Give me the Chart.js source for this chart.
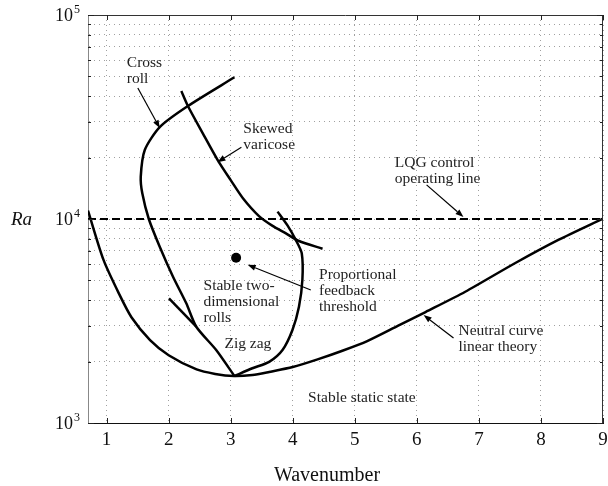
<!DOCTYPE html>
<html><head><meta charset="utf-8">
<script src="https://cdn.jsdelivr.net/npm/chart.js@4.4.1/dist/chart.umd.min.js"></script>
<style>html,body{margin:0;padding:0;background:#fff}</style>
</head><body>
<canvas id="c" width="608" height="486"></canvas>
<script>
const FONT = '"Liberation Serif", "Times New Roman", serif';

// Axis ticks
const xTicks = [1, 2, 3, 4, 5, 6, 7, 8, 9];
const yTicks = [1000, 2000, 3000, 4000, 5000, 6000, 7000, 8000, 9000,
                10000, 20000, 30000, 40000, 50000, 60000, 70000, 80000, 90000, 100000];
const yDecades = [1000, 10000, 100000];
const yDecadeExp = ['3', '4', '5'];

// Neutral curve (linear theory)
const neutralX = [0.7, 0.95, 1.2, 1.4, 1.7, 2.0, 2.45, 2.75, 3.05, 3.35, 3.62, 4.0, 4.4, 4.8, 5.2, 5.7, 6.14, 6.78, 7.58, 8.28, 9.0];
const neutralY = [11000, 6300, 4300, 3300, 2550, 2150, 1830, 1740, 1700, 1720, 1780, 1880, 2050, 2260, 2520, 3000, 3500, 4400, 6070, 7900, 10050];

// Cross roll boundary
const crossX = [3.06, 2.31, 1.86, 1.615, 1.55, 1.575, 1.68, 1.856, 2.07, 2.284, 2.445, 2.766, 3.06];
const crossY = [49500, 35800, 28300, 21800, 16100, 13360, 10000, 7310, 5210, 3860, 2965, 2280, 1700];

// Skewed varicose boundary
const skewX = [2.204, 2.31, 2.55, 2.79, 3.0, 3.2, 3.46, 3.675, 3.89, 4.10, 4.48];
const skewY = [42400, 35800, 26300, 19450, 15500, 12600, 10300, 9250, 8500, 7800, 7150];

// Proportional feedback threshold
const propX = [3.755, 3.915, 4.05, 4.145, 4.155, 4.10, 3.995, 3.835, 3.62, 3.35, 3.06];
const propY = [10870, 9300, 7880, 6790, 5020, 3715, 2858, 2280, 1995, 1855, 1700];

// Zig zag boundary
const zigX = [2.005, 2.445];
const zigY = [4085, 2965];

// LQG control operating line
const lqgX = [0.7, 9];
const lqgY = [10000, 10000];

// Operating point (dot)
const dotX = [3.087];
const dotY = [6460];

// Annotations (data coordinates)
const noteLines = [['Cross', 'roll'], ['Skewed', 'varicose'], ['LQG control', 'operating line'],
  ['Stable two-', 'dimensional', 'rolls'], ['Zig zag'], ['Proportional', 'feedback', 'threshold'],
  ['Neutral curve', 'linear theory'], ['Stable static state']];
const noteX = [1.326, 3.204, 5.644, 2.562, 2.899, 4.424, 6.671, 4.247];
const noteY = [58200, 27600, 18800, 4695, 2440, 5310, 2825, 1326];

const arrowFromX = [1.503, 3.172, 6.157, 4.291, 6.591];
const arrowFromY = [43900, 22500, 14700, 4490, 2610];
const arrowToX = [1.856, 2.787, 6.751, 3.273, 6.109];
const arrowToY = [27900, 19000, 10230, 5960, 3380];

const pts = (xs, ys) => xs.map((v, i) => ({x: v, y: ys[i]}));
const curve = (label, xs, ys, extra) => Object.assign({
  label, data: pts(xs, ys), showLine: true, borderColor: '#000', backgroundColor: '#000',
  borderWidth: 2.5, pointRadius: 0, tension: 0.25, fill: false
}, extra || {});

const decor = {
  id: 'decor',
  afterDatasetsDraw(chart) {
    const {ctx, chartArea: a, scales: {x, y}} = chart;
    ctx.save();
    // top & right frame
    ctx.lineWidth = 1;
    ctx.strokeStyle = '#333';
    ctx.beginPath();
    ctx.moveTo(a.left, Math.round(a.top) + 0.5); ctx.lineTo(a.right, Math.round(a.top) + 0.5);
    ctx.moveTo(Math.round(a.right) - 0.5, a.top); ctx.lineTo(Math.round(a.right) - 0.5, a.bottom);
    ctx.stroke();
    // inward ticks
    ctx.strokeStyle = '#222';
    ctx.beginPath();
    xTicks.forEach(v => {
      const px = Math.round(x.getPixelForValue(v)) + 0.5;
      ctx.moveTo(px, a.bottom); ctx.lineTo(px, a.bottom - 5);
      ctx.moveTo(px, a.top); ctx.lineTo(px, a.top + 5);
    });
    yTicks.forEach(v => {
      const py = Math.round(y.getPixelForValue(v)) + 0.5;
      const len = yDecades.includes(v) ? 6 : 3;
      ctx.moveTo(a.left, py); ctx.lineTo(a.left + len, py);
      ctx.moveTo(a.right, py); ctx.lineTo(a.right - len, py);
    });
    ctx.stroke();
    // y decade labels
    ctx.fillStyle = '#111';
    ctx.textBaseline = 'alphabetic';
    yDecades.forEach((v, i) => {
      const py = y.getPixelForValue(v);
      ctx.font = '18px ' + FONT;
      ctx.textAlign = 'right';
      ctx.fillText('10', a.left - 15, py + 6);
      ctx.font = '12px ' + FONT;
      ctx.textAlign = 'left';
      ctx.fillText(yDecadeExp[i], a.left - 14, py - 2);
    });
    // axis titles
    ctx.font = 'italic 19px ' + FONT;
    ctx.textAlign = 'left';
    ctx.fillText('Ra', 11, y.getPixelForValue(10000) + 6);
    ctx.font = '20px ' + FONT;
    ctx.textAlign = 'center';
    ctx.fillText('Wavenumber', 327, 481);
    // annotations
    ctx.font = '15.5px ' + FONT;
    ctx.fillStyle = '#222';
    ctx.textAlign = 'left';
    ctx.textBaseline = 'middle';
    noteLines.forEach((lines, i) => {
      const px = x.getPixelForValue(noteX[i]);
      const py = y.getPixelForValue(noteY[i]);
      lines.forEach((t, j) => ctx.fillText(t, px, py + j * 16));
    });
    // arrows
    ctx.strokeStyle = '#000';
    ctx.fillStyle = '#000';
    ctx.lineWidth = 1.2;
    arrowFromX.forEach((v, i) => {
      const x0 = x.getPixelForValue(v), y0 = y.getPixelForValue(arrowFromY[i]);
      const x1 = x.getPixelForValue(arrowToX[i]), y1 = y.getPixelForValue(arrowToY[i]);
      const ang = Math.atan2(y1 - y0, x1 - x0);
      const L = 8, W = 3;
      const bx = x1 - L * Math.cos(ang), by = y1 - L * Math.sin(ang);
      ctx.beginPath(); ctx.moveTo(x0, y0); ctx.lineTo(bx, by); ctx.stroke();
      ctx.beginPath();
      ctx.moveTo(x1, y1);
      ctx.lineTo(bx + W * Math.sin(ang), by - W * Math.cos(ang));
      ctx.lineTo(bx - W * Math.sin(ang), by + W * Math.cos(ang));
      ctx.closePath(); ctx.fill();
    });
    ctx.restore();
  }
};

new Chart(document.getElementById('c'), {
  type: 'scatter',
  data: {
    datasets: [
      curve('Neutral curve linear theory', neutralX, neutralY),
      curve('Cross roll', crossX, crossY),
      curve('Skewed varicose', skewX, skewY),
      curve('Proportional feedback threshold', propX, propY),
      curve('Zig zag', zigX, zigY, {tension: 0}),
      curve('LQG control operating line', lqgX, lqgY, {borderWidth: 2, borderDash: [8, 4], tension: 0}),
      {label: 'Operating point', data: pts(dotX, dotY), showLine: false, pointRadius: 5,
       pointBackgroundColor: '#000', pointBorderColor: '#000', pointBorderWidth: 0}
    ]
  },
  options: {
    responsive: false,
    animation: false,
    layout: {padding: {left: 0, right: 3, top: 15, bottom: 0}},
    plugins: {legend: {display: false}, tooltip: {enabled: false}, title: {display: false}},
    scales: {
      x: {
        type: 'linear', min: 0.7, max: 9,
        afterBuildTicks: s => { s.ticks = xTicks.map(v => ({value: v})); },
        afterFit: s => { s.height = 63; s.paddingLeft = 0; s.paddingRight = 0; },
        grid: {color: '#a0a0a0', lineWidth: 1, drawTicks: false},
        border: {display: true, color: '#111', width: 1, dash: [1, 4]},
        ticks: {font: {family: FONT, size: 19}, color: '#111', padding: 6, maxRotation: 0, autoSkip: false}
      },
      y: {
        type: 'logarithmic', min: 1000, max: 100000,
        afterBuildTicks: s => { s.ticks = yTicks.map(v => ({value: v})); },
        afterFit: s => { s.width = 88; s.paddingTop = 0; s.paddingBottom = 0; },
        grid: {color: '#a0a0a0', lineWidth: 1, drawTicks: false},
        border: {display: true, color: '#888', width: 1, dash: [1, 4]},
        ticks: {display: false, autoSkip: false}
      }
    }
  },
  plugins: [decor]
});
</script>
</body></html>
